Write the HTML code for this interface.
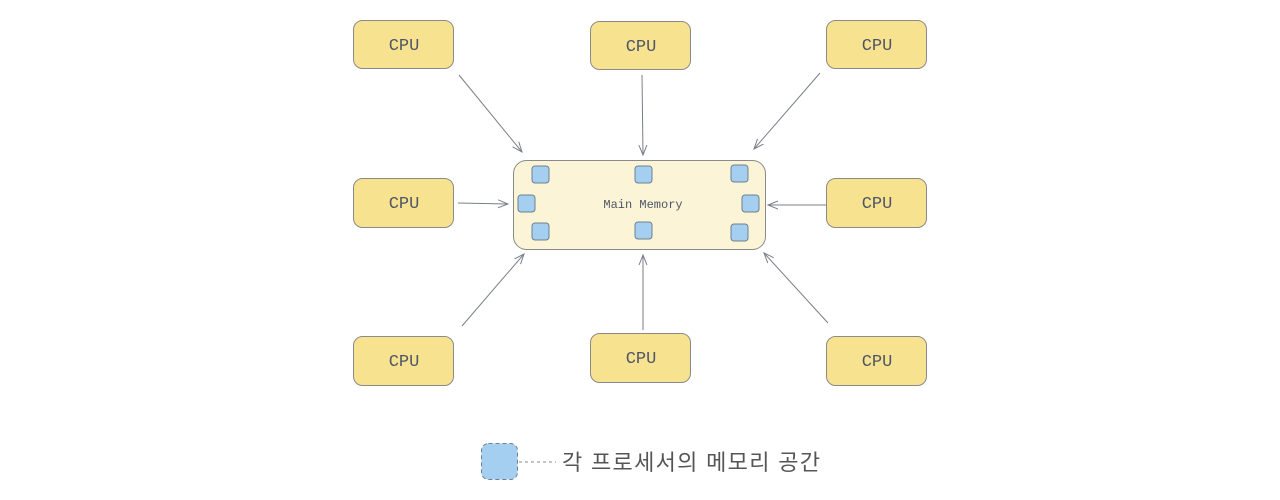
<!DOCTYPE html>
<html><head><meta charset="utf-8"><style>
html,body{margin:0;padding:0;background:#fff;width:1280px;height:500px;overflow:hidden}
</style></head><body>
<svg width="1280" height="500" xmlns="http://www.w3.org/2000/svg">
<defs>
<marker id="a" markerWidth="12" markerHeight="10" refX="10" refY="5" orient="auto" markerUnits="userSpaceOnUse">
<path d="M0,1 L10,5 L0,9" fill="none" stroke="#7a7e88" stroke-width="1"/>
</marker>
</defs>
<g fill="#f6e28f" stroke="#8a8a8a" stroke-width="1">
<rect x="353.5" y="20.5" width="100" height="48" rx="9"/>
<rect x="590.5" y="21.5" width="100" height="48" rx="9"/>
<rect x="826.5" y="20.5" width="100" height="48" rx="9"/>
<rect x="353.5" y="178.5" width="100" height="49" rx="9"/>
<rect x="826.5" y="178.5" width="100" height="49" rx="9"/>
<rect x="353.5" y="336.5" width="100" height="49" rx="9"/>
<rect x="590.5" y="333.5" width="100" height="49" rx="9"/>
<rect x="826.5" y="336.5" width="100" height="49" rx="9"/>
</g>
<g font-family="'Liberation Mono',monospace" font-size="17" fill="#4f5566" text-anchor="middle">
<text x="404" y="50">CPU</text>
<text x="641" y="51">CPU</text>
<text x="877" y="50">CPU</text>
<text x="404" y="208">CPU</text>
<text x="877" y="208">CPU</text>
<text x="404" y="366">CPU</text>
<text x="641" y="363">CPU</text>
<text x="877" y="366">CPU</text>
</g>
<rect x="513.5" y="160.5" width="252" height="89" rx="13" fill="#fbf4d6" stroke="#8a8a8a"/>
<text x="643" y="208" font-family="'Liberation Mono',monospace" font-size="12" fill="#4f5566" text-anchor="middle">Main Memory</text>
<g fill="#a5cff0" stroke="#6f7f8f" stroke-width="1">
<rect x="532" y="166" width="17" height="17" rx="3"/>
<rect x="635" y="166" width="17" height="17" rx="3"/>
<rect x="731" y="165" width="17" height="17" rx="3"/>
<rect x="518" y="195" width="17" height="17" rx="3"/>
<rect x="742" y="195" width="17" height="17" rx="3"/>
<rect x="532" y="223" width="17" height="17" rx="3"/>
<rect x="635" y="222" width="17" height="17" rx="3"/>
<rect x="731" y="224" width="17" height="17" rx="3"/>
</g>
<g stroke="#7a7e88" stroke-width="1" marker-end="url(#a)" fill="none">
<line x1="459" y1="75" x2="522" y2="152"/>
<line x1="642" y1="75" x2="643" y2="155"/>
<line x1="820" y1="73" x2="754" y2="149"/>
<line x1="458" y1="203" x2="508" y2="204"/>
<line x1="826" y1="205" x2="768" y2="205"/>
<line x1="462" y1="326" x2="524" y2="254"/>
<line x1="643" y1="330" x2="643" y2="255"/>
<line x1="828" y1="323" x2="764" y2="253"/>
</g>
<rect x="481.5" y="443.5" width="36" height="36" rx="7" fill="#a5cff0" stroke="#6f7f8f" stroke-dasharray="4,3"/>
<line x1="519" y1="462" x2="556" y2="462" stroke="#888" stroke-dasharray="3,3"/>
<text x="562" y="470" font-family="'Liberation Sans','Noto Sans CJK KR',sans-serif" font-size="22" fill="#555" textLength="258" lengthAdjust="spacing">각 프로세서의 메모리 공간</text>
</svg>
</body></html>
